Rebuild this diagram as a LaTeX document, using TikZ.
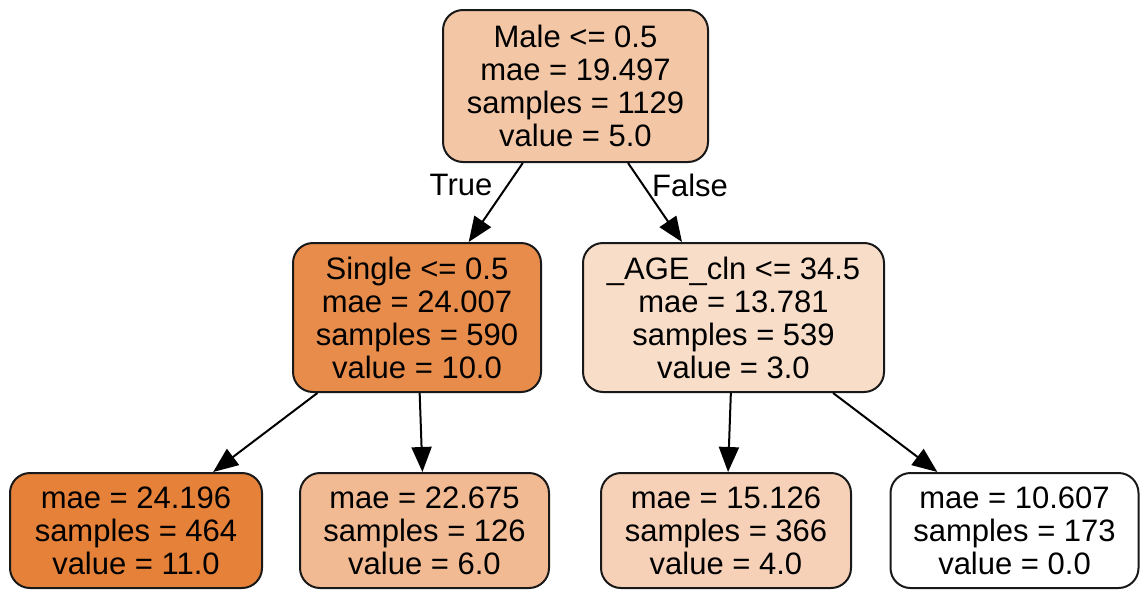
\documentclass[tikz,border=0pt]{standalone}
\usepackage{fontspec}
\setmainfont{Liberation Sans}
\usetikzlibrary{arrows.meta}

% node fill colours: value scaled from white (0.0) to orange (11.0)
\definecolor{v11}{RGB}{229,129,57}
\definecolor{v10}{RGB}{231,140,75}
\definecolor{v6}{RGB}{241,186,147}
\definecolor{v5}{RGB}{243,198,165}
\definecolor{v4}{RGB}{246,209,183}
\definecolor{v3}{RGB}{248,221,201}
\definecolor{v0}{RGB}{255,255,255}

\tikzset{
  treenode/.style={draw=black!90, line width=1pt, rounded corners=10pt,
    align=center, inner sep=0pt,
    font=\fontsize{15.5}{16.5}\selectfont},
  edge/.style={draw=black, line width=1pt,
    -{Triangle[length=12.5pt,width=10pt]}},
  edgelabel/.style={font=\fontsize{15.5}{16.5}\selectfont, inner sep=0pt}
}

\begin{document}
\begin{tikzpicture}[x=0.5pt,y=-0.5pt]
\useasboundingbox (0,0) rectangle (1144,589);

% split nodes
\node[treenode, fill=v5, minimum width=132.5pt, minimum height=76pt]
  (root) at (575.5,86) {Male <= 0.5\\mae = 19.497\\samples = 1129\\value = 5.0};
\node[treenode, fill=v10, minimum width=124pt, minimum height=74.5pt]
  (single) at (417,317.5) {Single <= 0.5\\mae = 24.007\\samples = 590\\value = 10.0};
\node[treenode, fill=v3, minimum width=150.5pt, minimum height=74.5pt]
  (age) at (733.5,317.5) {\_AGE\_cln <= 34.5\\mae = 13.781\\samples = 539\\value = 3.0};

% leaves
\node[treenode, fill=v11, minimum width=126pt, minimum height=57.5pt]
  (leafa) at (136,530.5) {mae = 24.196\\samples = 464\\value = 11.0};
\node[treenode, fill=v6, minimum width=124.5pt, minimum height=57.5pt]
  (leafb) at (424.5,530.5) {mae = 22.675\\samples = 126\\value = 6.0};
\node[treenode, fill=v4, minimum width=125pt, minimum height=57.5pt]
  (leafc) at (726,530.5) {mae = 15.126\\samples = 366\\value = 4.0};
\node[treenode, fill=v0, minimum width=124pt, minimum height=57.5pt]
  (leafd) at (1014.5,530.5) {mae = 10.607\\samples = 173\\value = 0.0};

% connectors
\draw[edge] (root) -- (single);
\draw[edge] (root) -- (age);
\draw[edge] (single) -- (leafa);
\draw[edge] (single) -- (leafb);
\draw[edge] (age) -- (leafc);
\draw[edge] (age) -- (leafd);

% branch labels
\node[edgelabel] (truelbl) at (461,185) {True};
\node[edgelabel] (falselbl) at (690,185) {False};
\end{tikzpicture}
\end{document}
